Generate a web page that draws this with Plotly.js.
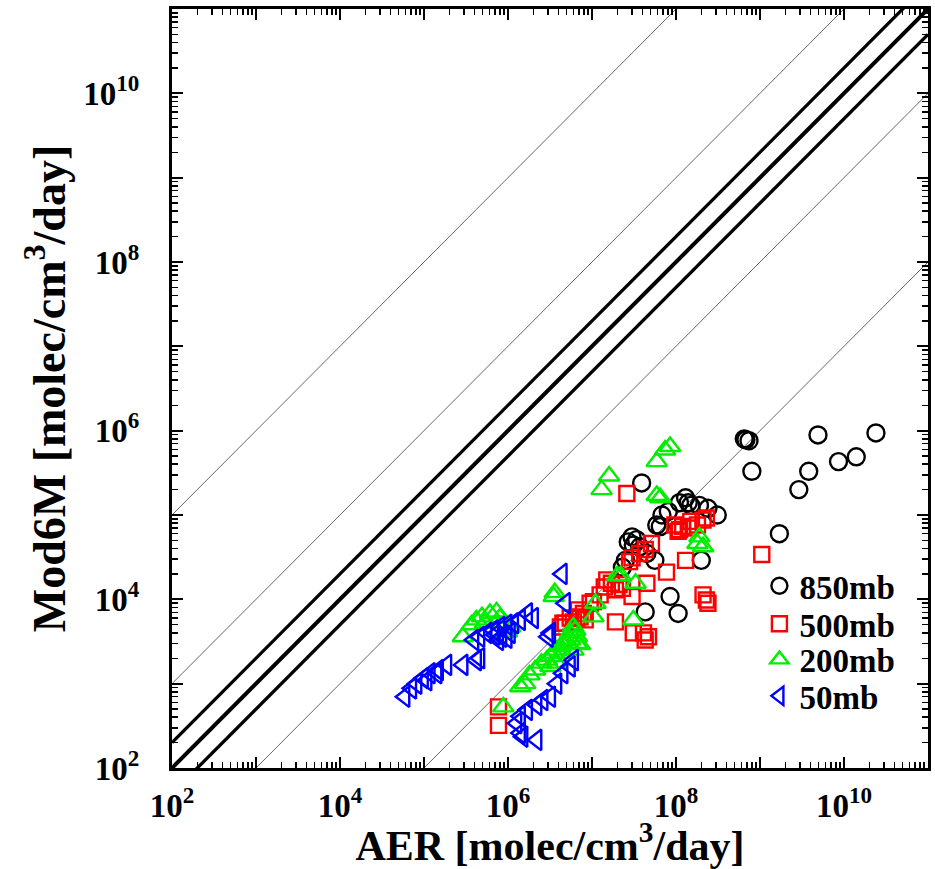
<!DOCTYPE html>
<html>
<head>
<meta charset="utf-8">
<script src="https://cdn.plot.ly/plotly-3.0.1.min.js"></script>
<style>html,body{margin:0;padding:0;background:#fff;}#chart{width:935px;height:869px;}</style>
</head>
<body>
<div id="chart"></div>
<script>
// ---- Data ----
const aer850 = [6.8e8,7.4e8,6.5e8,8.0e8,4.9e9,2.4e10,3.8e9,2.9e9,8.6e9,1.4e10,1.7e9,3.1e8,3.9e7,1.3e8,1.4e8,1.1e8,1.5e8,1.9e8,2.4e8,8.1e7,6.5e7,3.0e7,3.4e7,2.7e7,3.7e7,3.1e7,4.5e7,5.6e7,2.5e7,2.3e7,2.0e8,8.5e7,1.06e8,4.3e7,6.8e7,5.9e7];
const mod850 = [7.8e5,7.6e5,8.0e5,3.3e5,8.9e5,9.4e5,3.3e5,2.0e5,4.3e5,4.9e5,6.0e4,1.0e5,2.4e5,1.6e5,1.4e5,1.4e5,1.3e5,1.3e5,1.2e5,1.1e5,7.3e4,5.5e4,5.1e4,4.8e4,4.2e4,4.4e4,3.5e4,2.9e4,2.9e4,2.4e4,2.9e4,1.08e4,6.8e3,7.1e3,1.0e5,7.6e4];

const aer500 = [2.6e7,9.7e7,1.1e8,1.2e8,1.5e8,1.8e8,2.1e8,2.3e8,1.06e8,1.4e8,5.1e7,4.3e7,3.7e7,3.0e7,2.8e7,1.3e8,7.7e7,4.5e7,3.0e7,1.5e7,1.7e7,2.1e7,1.9e7,1.4e7,2.3e7,2.1e8,2.3e8,2.4e8,1.9e7,3.1e7,4.1e7,4.7e7,4.3e7,1.25e7,9.5e6,1.04e7,7.2e6,7.9e6,6.6e6,6.0e6,8.3e6,4.5e6,4.2e6,1.05e9,7.7e5,7.7e5,6.9e6,5.5e6,4.8e6];
const mod500 = [1.8e5,7.6e4,6.7e4,7.3e4,8.4e4,7.6e4,8.7e4,9.2e4,6.4e4,7.0e4,4.6e4,3.9e4,3.5e4,3.1e4,2.8e4,2.9e4,2.1e4,1.55e4,1.08e4,1.7e4,1.55e4,1.5e4,1.3e4,1.4e4,1.35e4,1.13e4,9.8e3,9.0e3,5.4e3,4.0e3,4.0e3,3.6e3,3.3e3,1.13e4,9.0e3,9.4e3,6.2e3,6.8e3,6.0e3,5.4e3,5.7e3,5.2e3,4.7e3,3.4e4,530,320,7.5e3,6.0e3,5.2e3];

const aer200 = [1.6e7,1.3e7,7.4e7,5.9e7,8.5e7,5.9e7,6.5e7,1.9e8,2.1e8,1.8e8,2.2e7,3.3e7,1.1e7,1.04e7,3.1e7,6.3e6,5.5e6,3.5e6,2.0e7,6.0e6,6.6e6,5.0e6,4.2e6,3.5e6,2.9e6,6.6e6,4.5e6,3.8e6,3.2e6,2.9e5,3.7e5,4.2e5,4.9e5,6.1e5,7.3e5,5.3e5,8.0e5,1.06e6,9.7e5,3.6e6,8.8e5,1.4e6,1.6e6,1.8e6,2.1e6,2.5e6,3.2e6,3.8e6,4.5e6,5.5e6,7.2e6,6.0e6];
const mod200 = [2.9e5,2.0e5,5.9e5,4.3e5,6.5e5,1.7e5,1.6e5,5.5e4,4.2e4,4.6e4,1.9e4,1.55e4,9.0e3,6.2e3,5.7e3,4.3e3,4.0e3,1.08e4,1.9e4,4.7e3,3.6e3,3.0e3,2.75e3,2.3e3,1.9e3,3.0e3,2.3e3,1.75e3,1.6e3,3.6e3,5.0e3,5.7e3,6.2e3,6.8e3,7.1e3,5.2e3,6.0e3,4.7e3,4.1e3,1.2e4,530,920,1.0e3,1.27e3,1.45e3,1.75e3,2.1e3,2.5e3,2.9e3,3.3e3,2.9e3,2.5e3];

const aer50 = [4.4e6,4.8e6,3.0e6,1.7e6,2.0e6,1.4e6,1.16e6,9.7e5,8.0e5,6.7e5,5.6e5,4.6e5,3.9e5,7.0e5,8.4e5,9.7e5,1.06e6,7.7e5,4.6e5,2.9e5,1.86e5,1.48e5,1.18e5,9.8e4,8.2e4,7.1e4,5.9e4,1.08e5,1.42e5,4.2e5,6.0e6,4.5e6,3.8e6,3.2e6,2.6e6,2.2e6,1.7e6,1.4e6,1.27e6,1.4e6,2.2e6,1.5e6,5.5e6,3.2e6];
const mod50 = [2.0e4,9.0e3,3.6e3,6.8e3,6.0e3,5.7e3,5.2e3,5.0e3,4.7e3,4.3e3,4.0e3,3.6e3,3.3e3,3.8e3,3.6e3,3.5e3,4.0e3,3.3e3,2.0e3,1.67e3,1.67e3,1.45e3,1.33e3,1.16e3,1.0e3,880,700,1.1e3,1.33e3,1.9e3,1.9e3,1.33e3,1.0e3,700,640,560,490,410,340,260,215,235,1.6e3,4.0e3];

const seriesNames = ['850mb','500mb','200mb','50mb'];
const refFactors = [1000, 10, 2, 1, 0.5, 0.1, 0.001];
const labelTickVals = [1e2,1e4,1e6,1e8,1e10];
const labelTickText = ['10<sup>2</sup>','10<sup>4</sup>','10<sup>6</sup>','10<sup>8</sup>','10<sup>10</sup>'];
const oddDecadeVals = [1e3,1e5,1e7,1e9,1e11];

// ---- Build ----
const FONT = 'Liberation Serif, Times New Roman, serif';
const minorVals = [];
for (let e = 2; e < 11; e++) for (let m = 2; m <= 9; m++) minorVals.push(m * Math.pow(10, e));

const traces = [];
const lineEnds = [1e2, 1e11];
refFactors.forEach(f => {
  const main = (f === 1 || f === 2 || f === 0.5);
  traces.push({
    x: lineEnds, y: lineEnds.map(v => v * f), mode: 'lines', type: 'scatter',
    line: {color: main ? '#000' : '#555', width: f === 1 ? 4 : main ? 3.3 : 0.9},
    showlegend: false, hoverinfo: 'skip'
  });
});

const sets = [
  {x: aer850, y: mod850, sym: 'circle-open', col: '#000000', size: 17},
  {x: aer500, y: mod500, sym: 'square-open', col: '#ff0000', size: 15},
  {x: aer200, y: mod200, sym: 'triangle-up-open', col: '#00ee00', size: 18},
  {x: aer50, y: mod50, sym: 'triangle-left-open', col: '#0000ff', size: 18}
];
const legendIds = ['legend', 'legend2', 'legend3', 'legend4'];
sets.forEach((s, i) => {
  traces.push({
    x: s.x, y: s.y, type: 'scatter', mode: 'markers', name: seriesNames[i], legend: legendIds[i],
    marker: {symbol: s.sym, size: s.size, color: s.col, line: {width: 2.4, color: s.col}}
  });
});
// empty trace to carry the overlay axes used for unlabeled decade ticks
traces.push({x: [], y: [], xaxis: 'x2', yaxis: 'y2', type: 'scatter', mode: 'markers', showlegend: false, hoverinfo: 'skip'});

const tickFont = {family: FONT, size: 33, color: '#000', weight: 'bold'};
const axisCommon = {
  type: 'log', range: [2, 11], showgrid: false, zeroline: false,
  showline: true, linecolor: '#000', linewidth: 3, mirror: 'allticks',
  ticks: 'inside', ticklen: 11, tickwidth: 2, tickcolor: '#000',
  tickmode: 'array', tickvals: labelTickVals, ticktext: labelTickText,
  tickfont: tickFont,
  minor: {ticks: 'inside', ticklen: 6, tickwidth: 1.5, tickcolor: '#000', tickmode: 'array', tickvals: minorVals, showgrid: false},
  automargin: false
};
const overlayCommon = {
  type: 'log', range: [2, 11], showgrid: false, zeroline: false, showline: false,
  mirror: 'allticks', ticks: 'inside', ticklen: 11, tickwidth: 2, tickcolor: '#000',
  tickmode: 'array', tickvals: oddDecadeVals, showticklabels: false, automargin: false, fixedrange: true
};

const legendY = [0.2400, 0.1900, 0.1430, 0.0950];
const legendFont = {family: FONT, size: 33, color: '#000', weight: 'bold'};
const layout = {
  width: 935, height: 869,
  margin: {l: 172, r: 7, t: 9, b: 101},
  paper_bgcolor: '#fff', plot_bgcolor: '#fff',
  showlegend: true,
  xaxis: Object.assign({}, axisCommon, {
    ticklabelstandoff: 6,
    title: {text: 'AER [molec/cm<sup>3</sup>/day]', font: {family: FONT, size: 42, color: '#000', weight: 'bold'}, standoff: 2}
  }),
  yaxis: Object.assign({}, axisCommon, {
    ticklabelstandoff: 23,
    title: {text: 'Mod6M [molec/cm<sup>3</sup>/day]', font: {family: FONT, size: 46, color: '#000', weight: 'bold'}, standoff: 4}
  }),
  xaxis2: Object.assign({}, overlayCommon, {overlaying: 'x', anchor: 'y2', side: 'bottom'}),
  yaxis2: Object.assign({}, overlayCommon, {overlaying: 'y', anchor: 'x2', side: 'left'})
};
legendIds.forEach((id, i) => {
  layout[id] = {x: 0.777, y: legendY[i], xanchor: 'left', yanchor: 'middle', bgcolor: 'rgba(0,0,0,0)',
    font: legendFont, itemwidth: 30, borderwidth: 0};
});

Plotly.newPlot('chart', traces, layout, {staticPlot: true, displayModeBar: false});
</script>
</body>
</html>
